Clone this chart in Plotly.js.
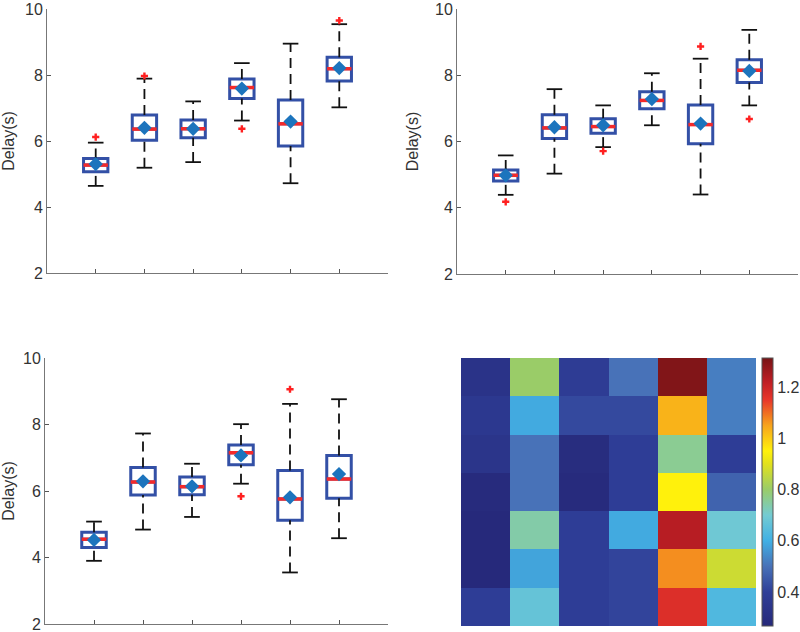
<!DOCTYPE html>
<html>
<head>
<meta charset="utf-8">
<script src="https://cdn.plot.ly/plotly-3.0.1.min.js"></script>
<style>
  html, body { margin: 0; padding: 0; background: #fff; }
  #grafico { width: 800px; height: 632px; }
</style>
</head>
<body>
<div id="grafico"></div>
<script>
// grupos (posiciones en el eje x)
const grupos = [1, 2, 3, 4, 5, 6];

// panel superior izquierdo
const q1A   = [5.07, 6.02, 6.10, 7.29, 5.85, 7.82];
const medA  = [5.27, 6.36, 6.37, 7.62, 6.52, 8.19];
const q3A   = [5.47, 6.79, 6.64, 7.88, 7.24, 8.54];
const minA  = [4.64, 5.19, 5.36, 6.62, 4.72, 7.02];
const maxA  = [5.95, 7.89, 7.20, 8.36, 8.95, 9.54];
const mediaA = [5.30, 6.40, 6.37, 7.59, 6.59, 8.21];
const atipXA = [1, 2, 4, 6];
const atipYA = [6.12, 7.97, 6.37, 9.65];

// panel superior derecho
const q1B   = [4.81, 6.09, 6.25, 6.99, 5.93, 7.78];
const medB  = [4.98, 6.41, 6.45, 7.24, 6.51, 8.15];
const q3B   = [5.14, 6.81, 6.69, 7.50, 7.10, 8.47];
const minB  = [4.39, 5.03, 5.83, 6.49, 4.40, 7.09];
const maxB  = [5.58, 7.58, 7.09, 8.06, 8.50, 9.37];
const mediaB = [4.98, 6.43, 6.49, 7.28, 6.54, 8.13];
const atipXB = [1, 3, 5, 6];
const atipYB = [4.18, 5.71, 8.87, 6.68];

// panel inferior izquierdo
const q1C   = [4.30, 5.88, 5.89, 6.79, 5.12, 5.78];
const medC  = [4.55, 6.27, 6.13, 7.15, 5.76, 6.36];
const q3C   = [4.76, 6.71, 6.42, 7.38, 6.62, 7.07];
const minC  = [3.90, 4.84, 5.22, 6.22, 3.55, 4.58];
const maxC  = [5.08, 7.73, 6.82, 8.01, 8.62, 8.76];
const mediaC = [4.53, 6.29, 6.14, 7.07, 5.81, 6.51];
const atipXC = [4, 5];
const atipYC = [5.84, 9.06];

// mapa de calor (filas de arriba hacia abajo)
const mapaZ = [
  [0.33, 0.80, 0.38, 0.50, 1.30, 0.52],
  [0.36, 0.59, 0.42, 0.42, 1.03, 0.52],
  [0.34, 0.50, 0.29, 0.39, 0.76, 0.39],
  [0.28, 0.50, 0.28, 0.39, 0.95, 0.47],
  [0.27, 0.74, 0.39, 0.59, 1.23, 0.69],
  [0.27, 0.58, 0.39, 0.41, 1.07, 0.87],
  [0.39, 0.67, 0.39, 0.41, 1.17, 0.63]
];
const zMin = 0.267, zMax = 1.313;

const AZUL = "#3350a6";
const ROJO = "#f42a2a";
const MEDIA = "#1c74bd";

function trazasCaja(q1, med, q3, mn, mx, media, ox, oy, xa, ya) {
  const wx = [], wy = [], cx = [], cy = [], mx2 = [], my = [];
  for (let i = 0; i < grupos.length; i++) {
    const g = grupos[i];
    wx.push(g, g, null, g, g, null);
    wy.push(q3[i], mx[i], null, mn[i], q1[i], null);
    cx.push(g - 0.16, g + 0.16, null, g - 0.16, g + 0.16, null);
    cy.push(mx[i], mx[i], null, mn[i], mn[i], null);
    mx2.push(g - 0.25, g + 0.25, null);
    my.push(med[i], med[i], null);
  }
  return [
    { x: wx, y: wy, xaxis: xa, yaxis: ya, mode: "lines", hoverinfo: "skip",
      line: { color: "#111", width: 1.8, dash: "10px,6px" } },
    { x: cx, y: cy, xaxis: xa, yaxis: ya, mode: "lines", hoverinfo: "skip",
      line: { color: "#111", width: 1.8 } },
    { type: "box", x: grupos, q1: q1, median: med, q3: q3,
      lowerfence: q1, upperfence: q3, xaxis: xa, yaxis: ya,
      width: 0.5, whiskerwidth: 0, fillcolor: "#ffffff",
      line: { color: AZUL, width: 3 } },
    { x: mx2, y: my, xaxis: xa, yaxis: ya, mode: "lines",
      line: { color: ROJO, width: 3.5 } },
    { x: grupos, y: media, xaxis: xa, yaxis: ya, mode: "markers",
      marker: { symbol: "diamond", size: 11, color: MEDIA } },
    { x: ox, y: oy, xaxis: xa, yaxis: ya, mode: "markers",
      marker: { symbol: "cross", size: 6, color: "#ff2020" } }
  ];
}

const datos = [].concat(
  trazasCaja(q1A, medA, q3A, minA, maxA, mediaA, atipXA, atipYA, "x", "y"),
  trazasCaja(q1B, medB, q3B, minB, maxB, mediaB, atipXB, atipYB, "x2", "y2"),
  trazasCaja(q1C, medC, q3C, minC, maxC, mediaC, atipXC, atipYC, "x3", "y3"),
  [{
    type: "heatmap", z: mapaZ, xaxis: "x4", yaxis: "y4",
    zmin: zMin, zmax: zMax,
    colorscale: [
      [0.000, "#26297a"], [0.127, "#2f3f98"], [0.223, "#4872b8"],
      [0.318, "#41b0e4"], [0.414, "#74cbd2"], [0.510, "#9acc68"],
      [0.605, "#e2e11c"], [0.653, "#fff10c"], [0.749, "#f7a31c"],
      [0.844, "#e8362a"], [0.910, "#c01e25"], [1.000, "#771416"]
    ],
    colorbar: {
      x: 762 / 800, xanchor: "left", y: 0.0095, yanchor: "bottom",
      len: 0.424, thickness: 11, outlinewidth: 1, outlinecolor: "#555",
      tickvals: [0.4, 0.6, 0.8, 1, 1.2], ticks: "",
      tickfont: { size: 16, color: "#333" }, xpad: 0, ypad: 0
    }
  }]
);

const fuente = { family: "Liberation Sans, Arial, sans-serif", size: 16, color: "#333" };

function ejeX(dom, ancla) {
  return { domain: dom, anchor: ancla, range: [0, 7], tickvals: grupos,
    showticklabels: false, ticks: "inside", ticklen: 4, tickcolor: "#555",
    showline: true, linecolor: "#777", linewidth: 1, showgrid: false, zeroline: false };
}
function ejeY(dom, ancla) {
  return { domain: dom, anchor: ancla, range: [2, 10], dtick: 2,
    ticks: "inside", ticklen: 4, tickcolor: "#555", tickfont: fuente,
    ticklabeloverflow: "allow",
    showline: true, linecolor: "#777", linewidth: 1, showgrid: false, zeroline: false,
    title: { text: "Delay(s)", font: { family: fuente.family, size: 16, color: "#333" }, standoff: 12 } };
}

const layout = {
  width: 800, height: 632,
  margin: { l: 0, r: 0, t: 0, b: 0 },
  paper_bgcolor: "#fff", plot_bgcolor: "#fff",
  showlegend: false, font: fuente,
  xaxis: ejeX([47 / 800, 388 / 800], "y"),
  yaxis: ejeY([1 - 273 / 632, 1 - 9 / 632], "x"),
  xaxis2: ejeX([457 / 800, 798 / 800], "y2"),
  yaxis2: ejeY([1 - 274 / 632, 1 - 9 / 632], "x2"),
  xaxis3: ejeX([45 / 800, 388 / 800], "y3"),
  yaxis3: ejeY([1 - 624 / 632, 1 - 358 / 632], "x3"),
  xaxis4: { domain: [461 / 800, 756 / 800], anchor: "y4", showticklabels: false,
    ticks: "", showgrid: false, zeroline: false, showline: false },
  yaxis4: { domain: [1 - 626 / 632, 1 - 358 / 632], anchor: "x4", autorange: "reversed",
    showticklabels: false, ticks: "", showgrid: false, zeroline: false, showline: false }
};

Plotly.newPlot("grafico", datos, layout, { displayModeBar: false, staticPlot: true });
</script>
</body>
</html>
